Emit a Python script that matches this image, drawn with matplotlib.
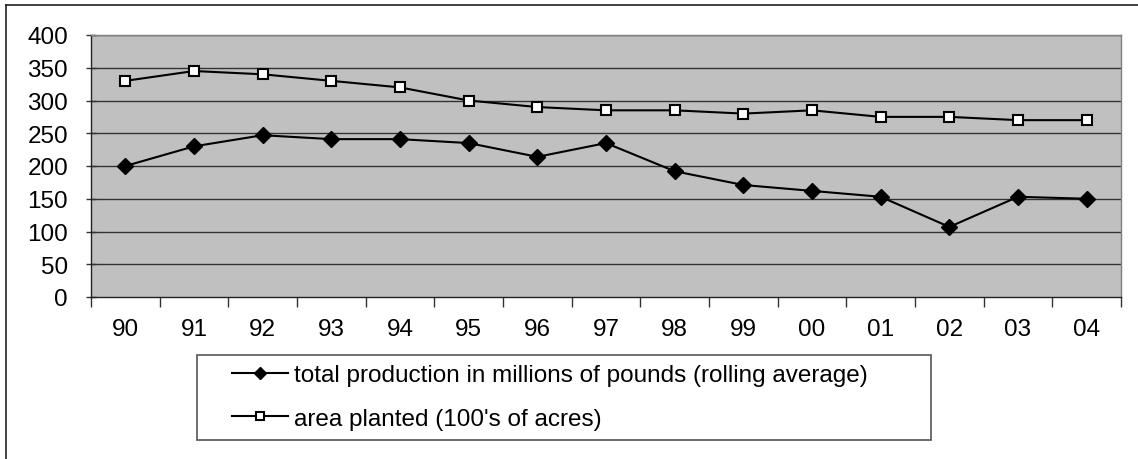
import matplotlib
matplotlib.use("Agg")
import matplotlib.pyplot as plt
from matplotlib.lines import Line2D
from matplotlib.patches import Rectangle

plt.rcParams['font.family'] = ['Liberation Sans', 'DejaVu Sans']

years = ['90', '91', '92', '93', '94', '95', '96', '97', '98', '99', '00', '01', '02', '03', '04']
production = [200, 230, 247, 241, 241, 235, 214, 235, 192, 171, 162, 153, 107, 153, 150]
area_planted = [330, 345, 340, 330, 320, 300, 290, 285, 285, 280, 285, 275, 275, 270, 270]
yticks = [0, 50, 100, 150, 200, 250, 300, 350, 400]

W, H = 1138, 460
fig = plt.figure(figsize=(W / 100, H / 100), dpi=100)
ax = fig.add_axes([91 / W, 1 - 298 / H, 1030 / W, 262 / H])
ax.set_facecolor('#c0c0c0')

x = list(range(len(years)))
ax.plot(x, production, color='black', lw=1.5, marker='D', ms=8.5,
        mfc='black', mec='black', label='total production in millions of pounds (rolling average)')
ax.plot(x, area_planted, color='black', lw=1.5, marker='s', ms=7,
        mfc='white', mec='black', mew=1.5, label="area planted (100's of acres)")

ax.set_xlim(-0.5, len(years) - 0.5)
ax.set_ylim(0, 400)
ax.set_yticks(yticks)
ax.set_yticklabels([str(v) for v in yticks], fontsize=17.5)
for v in yticks[1:]:
    ax.axhline(v, color='#333333', lw=1, zorder=1)

# category labels centred, ticks on the boundaries
ax.set_xticks(x)
ax.set_xticklabels(years, fontsize=17.5)
ax.set_xticks([i - 0.5 for i in range(len(years) + 1)], minor=True)
ax.tick_params(axis='x', which='major', length=0, pad=15)
ax.tick_params(axis='x', which='minor', length=7, width=1, direction='out', color='#333333')
ax.tick_params(axis='y', length=7, width=1, direction='inout', color='#333333', pad=13)

for side in ['left', 'bottom']:
    ax.spines[side].set_color('#222222')
    ax.spines[side].set_linewidth(1)
for side in ['top', 'right']:
    ax.spines[side].set_color('#808080')
    ax.spines[side].set_linewidth(1)

# legend box below the plot
fig.add_artist(Rectangle((197 / W, 1 - 441 / H), (931 - 197) / W, 85 / H,
                         transform=fig.transFigure, facecolor='white',
                         edgecolor='#555555', lw=1.2))
leg = fig.legend(loc='upper left', bbox_to_anchor=(232 / W, 1 - 365 / H),
                 fontsize=17.5, frameon=False, handlelength=2.3, handletextpad=0.25,
                 labelspacing=0.9, borderpad=0, borderaxespad=0, markerscale=0.75)

# chart border (top and left edges visible)
fig.add_artist(Line2D([6 / W, 1], [1 - 6 / H, 1 - 6 / H], color='#222222', lw=1.2))
fig.add_artist(Line2D([6 / W, 6 / W], [0, 1 - 6 / H], color='#222222', lw=1.2))

fig.savefig('out.png', dpi=100)
